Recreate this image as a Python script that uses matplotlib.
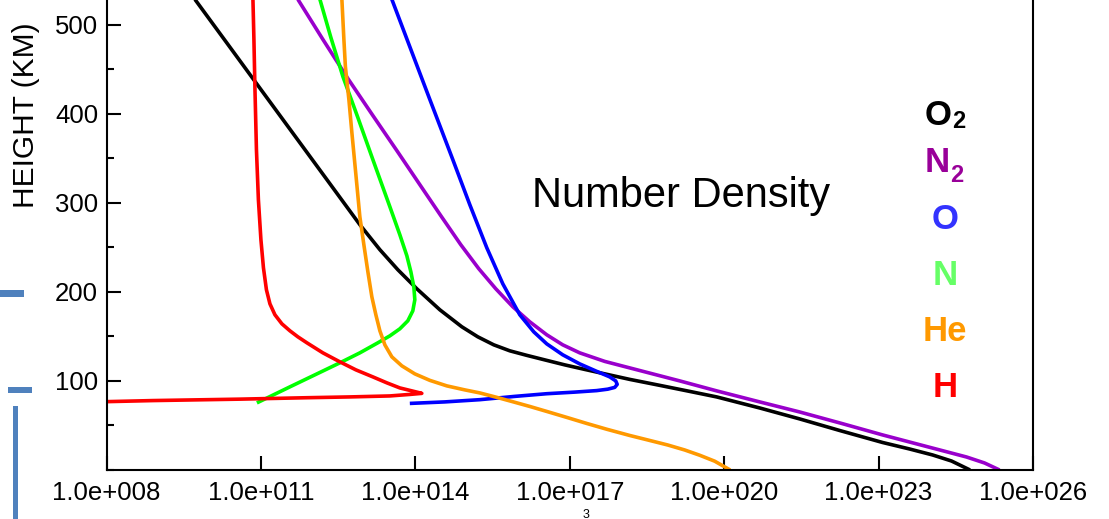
import matplotlib
matplotlib.use("Agg")
import matplotlib.pyplot as plt
from matplotlib.patches import Rectangle
from matplotlib.ticker import MultipleLocator
import numpy as np

plt.rcParams['font.family'] = ['Liberation Sans', 'DejaVu Sans']

# ---- data: heights (km) and log10 of number density (per cm^3) ----
o2_h = [528.7, 478.1, 427.4, 376.8, 326.2, 275.6, 247.5, 225.0, 203.6, 180.0, 160.9, 149.6, 140.6,
        133.9, 128.8, 123.7, 118.1, 113.0, 108.0, 101.8, 95.1, 88.3, 82.1, 69.7, 57.4, 44.4, 30.9,
        23.6, 16.9, 10.1, 0]
o2_logn = [9.718, 10.359, 11.0, 11.641, 12.282, 12.922, 13.311, 13.660, 14.029, 14.476, 14.903, 15.214,
           15.524, 15.835, 16.165, 16.515, 16.903, 17.291, 17.680, 18.165, 18.748, 19.330, 19.854,
           20.689, 21.466, 22.243, 23.078, 23.602, 24.049, 24.417, 24.777]

n2_h = [528.7, 483.7, 439.8, 398.2, 358.8, 320.6, 285.7, 253.1, 226.1, 203.6, 183.4, 166.5, 151.9,
        140.6, 131.6, 122.0, 114.7, 100.1, 88.9, 77.1, 65.2, 52.3, 39.4, 27.0, 14.6, 7.9, 0]
n2_logn = [11.718, 12.204, 12.689, 13.175, 13.641, 14.087, 14.495, 14.883, 15.233, 15.563, 15.893,
           16.223, 16.553, 16.864, 17.194, 17.680, 18.165, 19.136, 19.854, 20.650, 21.466, 22.282,
           23.078, 23.893, 24.709, 25.058, 25.35]

o_h = [528.7, 472.4, 416.2, 348.7, 298.1, 249.7, 209.2, 174.4, 155.2, 141.7, 129.4, 119.2, 110.8,
       104.6, 100.1, 96.2, 92.8, 90.8, 89.2, 87.5, 85.7, 82.7, 79.0, 76.5, 74.8]
o_logn = [13.544, 13.913, 14.282, 14.728, 15.058, 15.388, 15.699, 16.029, 16.301, 16.553, 16.864,
          17.194, 17.524, 17.777, 17.893, 17.922, 17.874, 17.738, 17.524, 17.097, 16.553, 15.932,
          15.252, 14.573, 13.893]

n_h = [528.7, 485.9, 442.1, 396.0, 348.7, 295.8, 264.3, 240.7, 222.7, 205.8, 191.2, 178.8, 167.6,
       158.6, 150.7, 142.9, 131.6, 120.4, 106.9, 93.4, 75.4]
n_logn = [12.146, 12.359, 12.592, 12.883, 13.175, 13.505, 13.699, 13.835, 13.913, 13.971, 13.990,
          13.951, 13.854, 13.699, 13.505, 13.272, 12.922, 12.534, 12.049, 11.563, 10.922]

he_h = [528.7, 483.7, 453.3, 416.2, 379.1, 331.8, 284.6, 253.1, 222.7, 194.6, 174.4, 156.4, 140.6,
        127.1, 117.0, 108.0, 100.7, 94.5, 90.0, 86.6, 81.6, 76.7, 71.4, 65.8, 59.1, 52.3, 45.8,
        38.8, 33.2, 28.1, 22.5, 16.6, 9.9, 0]
he_logn = [12.573, 12.612, 12.641, 12.709, 12.767, 12.845, 12.922, 13.0, 13.078, 13.155, 13.233,
           13.311, 13.408, 13.544, 13.738, 13.990, 14.282, 14.612, 14.961, 15.252, 15.583, 15.893,
           16.223, 16.553, 16.942, 17.330, 17.718, 18.165, 18.553, 18.903, 19.233, 19.524, 19.816,
           20.117]

h_h = [528.7, 483.7, 430.8, 360.0, 303.7, 258.7, 227.2, 202.5, 186.7, 174.4, 164.2, 156.4, 149.6,
       142.9, 131.6, 121.5, 112.5, 104.6, 97.9, 92.2, 88.9, 86.1, 84.9, 83.2, 82.1, 81.2, 79.6,
       78.0, 76.8, 76.5]
h_logn = [10.845, 10.864, 10.883, 10.913, 10.951, 11.0, 11.049, 11.107, 11.175, 11.272, 11.408,
          11.563, 11.718, 11.893, 12.204, 12.534, 12.845, 13.175, 13.447, 13.699, 13.932, 14.126,
          13.893, 13.505, 12.728, 11.893, 10.592, 8.903, 8.010, 7.485]

species = ["O2", "N2", "O", "N", "He", "H"]
line_colors = ["#000000", "#9900CC", "#0000FF", "#00FF00", "#FF9900", "#FF0000"]
label_colors = ["#000000", "#990099", "#3333FF", "#66FF66", "#FF9900", "#FF0000"]
label_main = ["O", "N", "O", "N", "He", "H"]
label_sub = ["2", "2", "", "", "", ""]

xtick_vals = [1e8, 1e11, 1e14, 1e17, 1e20, 1e23, 1e26]
xtick_labels = ["1.0e+008", "1.0e+011", "1.0e+014", "1.0e+017", "1.0e+020", "1.0e+023", "1.0e+026"]
ytick_vals = [100, 200, 300, 400, 500]

W, H = 1109, 519
fig = plt.figure(figsize=(W / 100, H / 100), dpi=100)
ax = fig.add_axes([106.5 / W, 49 / H, (1033 - 106.5) / W, (519 - 49) / H])

series = [(o2_h, o2_logn), (n2_h, n2_logn), (o_h, o_logn), (n_h, n_logn), (he_h, he_logn), (h_h, h_logn)]
for (hh, ll), c in zip(series, line_colors):
    ax.plot(10.0 ** np.array(ll), hh, color=c, lw=2.6, solid_joinstyle='round', solid_capstyle='butt')

ax.set_xscale('log')
ax.set_xlim(1e8, 1e26)
ax.set_ylim(0, 528)
ax.set_xticks(xtick_vals, xtick_labels)
ax.xaxis.set_minor_locator(plt.NullLocator())
ax.set_yticks(ytick_vals)
ax.yaxis.set_minor_locator(MultipleLocator(50))
ax.tick_params(axis='x', which='major', direction='in', length=10, width=1.5, labelsize=18.5, pad=8)
ax.tick_params(axis='y', which='major', direction='in', length=10, width=1.5, labelsize=18.5, pad=6)
ax.tick_params(axis='y', which='minor', direction='in', length=5, width=1.5)
ax.spines['top'].set_visible(False)
for s in ['left', 'bottom', 'right']:
    ax.spines[s].set_linewidth(1.5)

def px(x, y):
    return x / W, 1 - y / H

fig.text(*px(26, 115), "HEIGHT (KM)", rotation=90, ha='center', va='center', fontsize=21.5)
fig.text(*px(681, 207), "Number Density", ha='center', va='baseline', fontsize=30)

# coloured species labels
baselines = [125, 172.5, 229, 285, 341, 397]
for main, sub, col, yb in zip(label_main, label_sub, label_colors, baselines):
    if sub:
        fig.text(*px(925, yb), main, ha='left', va='baseline', fontsize=25, fontweight='bold', color=col)
    else:
        fig.text(*px(945, yb), main, ha='center', va='baseline', fontsize=25, fontweight='bold', color=col)
fig.text(*px(952, 128), label_sub[0], ha='left', va='baseline', fontsize=17, fontweight='bold', color=label_colors[0])
fig.text(*px(950, 182), label_sub[1], ha='left', va='baseline', fontsize=17, fontweight='bold', color=label_colors[1])

# stray marks at the left edge
bar_col = "#4F81BD"
for (x0, y0, x1, y1) in [(0, 290, 24, 297), (8, 387, 32, 393), (13, 406, 18, 519)]:
    fig.patches.append(Rectangle((x0 / W, 1 - y1 / H), (x1 - x0) / W, (y1 - y0) / H,
                                 transform=fig.transFigure, color=bar_col, lw=0))
fig.text(*px(586, 509), "3", ha='center', va='top', fontsize=9, color='black')

fig.savefig("out.png", dpi=100)
